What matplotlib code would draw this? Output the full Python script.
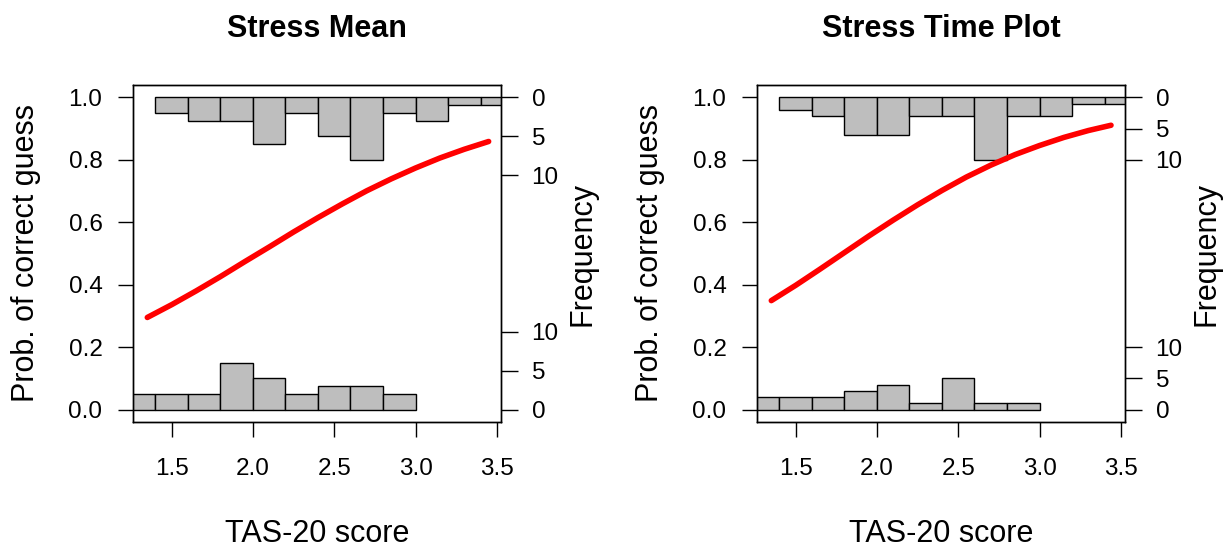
import matplotlib
matplotlib.use("Agg")
import matplotlib.pyplot as plt

plt.rcParams['font.family'] = ['Liberation Sans', 'DejaVu Sans']

# histogram bins (left edges, width 0.2)
top_bin_starts = [1.4, 1.6, 1.8, 2.0, 2.2, 2.4, 2.6, 2.8, 3.0, 3.2, 3.4]
bottom_bin_starts = [1.2, 1.4, 1.6, 1.8, 2.0, 2.2, 2.4, 2.6, 2.8]

# Stress Mean panel
mean_top_counts = [2, 3, 3, 6, 2, 5, 8, 2, 3, 1, 1]
mean_bottom_counts = [2, 2, 2, 6, 4, 2, 3, 3, 2]
mean_curve_x = [1.35, 1.50, 1.65, 1.80, 1.95, 2.10, 2.25, 2.40,
                2.55, 2.70, 2.85, 3.00, 3.15, 3.30, 3.45]
mean_curve_y = [0.295, 0.336, 0.380, 0.426, 0.474, 0.521, 0.569, 0.615,
                0.659, 0.701, 0.739, 0.774, 0.806, 0.834, 0.859]

# Stress Time Plot panel
time_top_counts = [2, 3, 6, 6, 3, 3, 10, 3, 3, 1, 1]
time_bottom_counts = [2, 2, 2, 3, 4, 1, 5, 1, 1]
time_curve_x = [1.35, 1.50, 1.65, 1.80, 1.95, 2.10, 2.25, 2.40,
                2.55, 2.70, 2.85, 3.00, 3.15, 3.30, 3.44]
time_curve_y = [0.349, 0.398, 0.450, 0.503, 0.556, 0.607, 0.656, 0.702,
                0.745, 0.783, 0.817, 0.846, 0.872, 0.894, 0.911]

x_ticks = [1.5, 2.0, 2.5, 3.0, 3.5]
y_ticks = [0.0, 0.2, 0.4, 0.6, 0.8, 1.0]
freq_ticks = [0, 5, 10]

W, H = 1225, 550
fig = plt.figure(figsize=(W / 100, H / 100), dpi=100)


def px(x, y):
    return x / W, 1 - y / H


def panel(left, title, top_counts, bottom_counts, cx, cy):
    right = left + 368
    ax = fig.add_axes([left / W, 1 - 422 / H, (right - left) / W, 337 / H])
    # histogram heights: largest bar = 0.2 on the probability scale
    scale = 0.2 / max(max(top_counts), max(bottom_counts))

    ax.bar(top_bin_starts, [-c * scale for c in top_counts], width=0.2, bottom=1.0,
           align='edge', color='#BEBEBE', edgecolor='black', linewidth=1.0, zorder=2)
    ax.bar(bottom_bin_starts, [c * scale for c in bottom_counts], width=0.2,
           align='edge', color='#BEBEBE', edgecolor='black', linewidth=1.0, zorder=2)
    ax.plot(cx, cy, color='red', lw=4, solid_capstyle='round',
            solid_joinstyle='round', zorder=3)

    ax.set_xlim(1.262, 3.526)
    ax.set_ylim(-0.04, 1.04)
    ax.set_xticks(x_ticks)
    ax.set_xticklabels([f"{v:.1f}" for v in x_ticks])
    ax.set_yticks(y_ticks)
    ax.set_yticklabels([f"{v:.1f}" for v in y_ticks])
    ax.tick_params(axis='x', direction='out', length=11, width=1.0, pad=15, labelsize=17.5)
    ax.tick_params(axis='y', direction='out', length=11, width=1.0, pad=11, labelsize=17.5)
    for s in ax.spines.values():
        s.set_linewidth(1.0)

    ax2 = ax.twinx()
    ax2.set_ylim(ax.get_ylim())
    pos = [1 - k * scale for k in freq_ticks] + [k * scale for k in freq_ticks]
    ax2.set_yticks(pos)
    ax2.set_yticklabels([str(k) for k in freq_ticks] * 2)
    ax2.tick_params(axis='y', direction='out', length=12, width=1.0, pad=10, labelsize=17.5)
    for s in ax2.spines.values():
        s.set_linewidth(1.0)

    mid = (left + right) / 2
    fig.text(*px(mid, 37), title, ha='center', va='baseline', fontsize=22, fontweight='bold')
    fig.text(*px(mid, 541.7), "TAS-20 score", ha='center', va='baseline', fontsize=22)
    fig.text(*px(left - 99, 253.5), "Prob. of correct guess", rotation=90,
             rotation_mode='anchor', ha='center', va='baseline', fontsize=22)
    fig.text(*px(right + 89, 253.5), "Frequency", rotation=90,
             rotation_mode='anchor', ha='center', va='baseline', fontsize=22)


panel(133, "Stress Mean", mean_top_counts, mean_bottom_counts, mean_curve_x, mean_curve_y)
panel(757, "Stress Time Plot", time_top_counts, time_bottom_counts, time_curve_x, time_curve_y)

fig.savefig("out.png", dpi=100)
